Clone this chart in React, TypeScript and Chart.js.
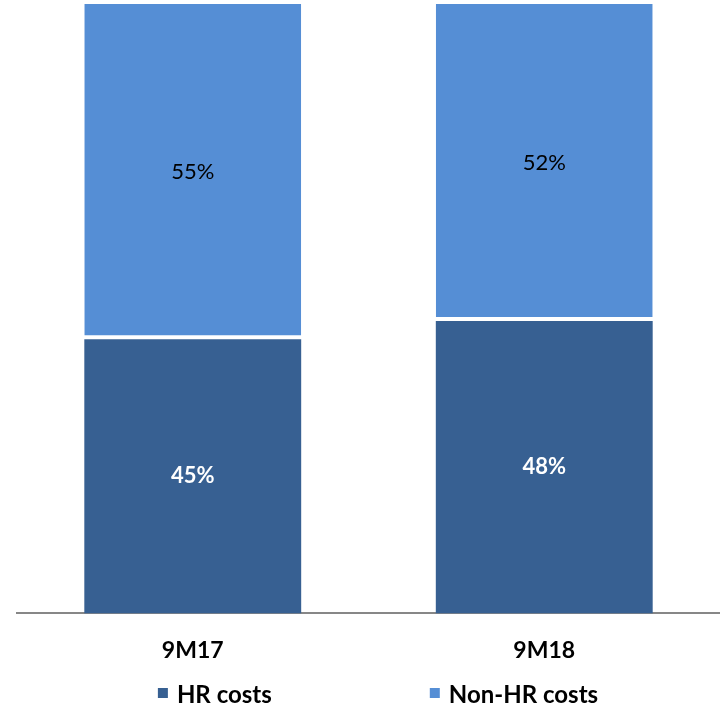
import React, { useEffect, useRef } from "react";
import { Chart, registerables } from "chart.js";

Chart.register(...registerables);

const categories = ["9M17", "9M18"];
const seriesNames = ["HR costs", "Non-HR costs"];
const hrCosts = [45, 48];
const nonHrCosts = [55, 52];
const yTicksRange = [0, 100];

const DARK = "#376092";
const LIGHT = "#558ED5";
const FONT = "Lato, 'Open Sans', sans-serif";

const barLabels = {
  id: "barLabels",
  afterDatasetsDraw(chart: any) {
    const ctx = chart.ctx;
    chart.data.datasets.forEach((ds: any, i: number) => {
      const meta = chart.getDatasetMeta(i);
      meta.data.forEach((bar: any, j: number) => {
        const { x, y, base } = bar.getProps(["x", "y", "base"], true);
        ctx.save();
        ctx.font = ds.labelFont;
        ctx.fillStyle = ds.labelColor;
        ctx.textAlign = "center";
        ctx.textBaseline = "middle";
        ctx.fillText(`${ds.data[j]}%`, x, (y + base) / 2);
        ctx.restore();
      });
    });
  },
};

const bottomLegend = {
  id: "bottomLegend",
  afterDraw(chart: any, _args: any, opts: any) {
    const ctx = chart.ctx;
    ctx.save();
    ctx.font = opts.font;
    const items = chart.data.datasets.map((ds: any) => ({
      text: ds.label,
      color: ds.backgroundColor,
      w: ctx.measureText(ds.label).width,
    }));
    const widths = items.map((it: any) => opts.box + opts.textGap + it.w);
    const total = widths.reduce((a: number, b: number) => a + b, 0) + opts.itemGap * (items.length - 1);
    let x = opts.centerX - total / 2;
    items.forEach((it: any, i: number) => {
      ctx.fillStyle = it.color;
      ctx.fillRect(x, opts.baseline - opts.boxRaise - opts.box, opts.box, opts.box);
      ctx.fillStyle = "#000";
      ctx.textAlign = "left";
      ctx.textBaseline = "alphabetic";
      ctx.fillText(it.text, x + opts.box + opts.textGap, opts.baseline);
      x += widths[i] + opts.itemGap;
    });
    ctx.restore();
  },
};

export default function App() {
  const ref = useRef<HTMLCanvasElement>(null);
  useEffect(() => {
    if (!ref.current) return;
    const chart = new Chart(ref.current, {
      type: "bar",
      data: {
        labels: categories,
        datasets: [
          {
            label: seriesNames[0],
            data: hrCosts,
            backgroundColor: DARK,
            borderColor: "#ffffff",
            borderWidth: { top: 0, bottom: 0, left: 0, right: 0 },
            borderSkipped: false,
            labelFont: `bold 22px ${FONT}`,
            labelColor: "#ffffff",
          } as any,
          {
            label: seriesNames[1],
            data: nonHrCosts,
            backgroundColor: LIGHT,
            borderColor: "#ffffff",
            borderWidth: { top: 0, bottom: 4, left: 0, right: 0 },
            borderSkipped: false,
            labelFont: `22px ${FONT}`,
            labelColor: "#000000",
          } as any,
        ],
      },
      options: {
        animation: false,
        responsive: true,
        maintainAspectRatio: false,
        layout: { padding: { top: 4, left: 17, right: 0, bottom: 21 } },
        datasets: { bar: { categoryPercentage: 1, barPercentage: 0.617 } },
        scales: {
          x: {
            stacked: true,
            grid: { display: false, drawTicks: false },
            border: { display: true, color: "#878787", width: 2 },
            ticks: { color: "#000", font: { family: FONT, size: 23, weight: 700 }, padding: 23 },
          },
          y: {
            stacked: true,
            display: false,
            min: yTicksRange[0],
            max: yTicksRange[1],
          },
        },
        plugins: {
          legend: { display: false },
          tooltip: { enabled: false },
          bottomLegend: {
            font: `bold 24px ${FONT}`,
            box: 10,
            textGap: 9,
            itemGap: 158,
            centerX: 378,
            baseline: 703,
            boxRaise: 5,
          },
        } as any,
      },
      plugins: [barLabels, bottomLegend],
    });
    return () => chart.destroy();
  }, []);
  return (
    <div style={{ position: "fixed", left: 0, top: 0, width: 720, height: 708, background: "#fff" }}>
      <canvas ref={ref} />
    </div>
  );
}
